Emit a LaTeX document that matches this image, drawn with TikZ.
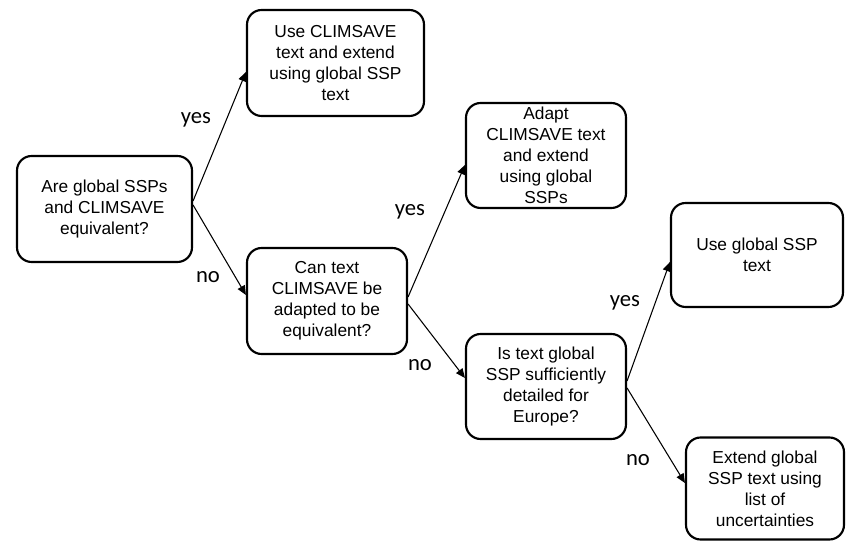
\documentclass[tikz,border=0pt]{standalone}
\usepackage{fontspec}
\setmainfont{Liberation Sans}
\newfontfamily\lblfont{Carlito}
\usetikzlibrary{arrows.meta,calc}
\begin{document}
\begin{tikzpicture}[x=0.75pt,y=-0.75pt,
  box/.style={draw, line width=1.6pt, rounded corners=11pt, align=center,
    font=\fontsize{13}{15.75}\selectfont, inner sep=0pt},
  lbl/.style={font=\lblfont\fontsize{17}{20}\selectfont, inner sep=0pt},
  arr/.style={line width=0.8pt, -{Triangle[length=7pt,width=6pt]}}]
\useasboundingbox (0,0) rectangle (847,541);

\node[box, minimum width=175*0.75pt, minimum height=106*0.75pt] (b1) at (104.5,209)
  {Are global SSPs\\and CLIMSAVE\\equivalent?};
\node[box, minimum width=177*0.75pt, minimum height=106*0.75pt] (b2) at (335.5,63)
  {Use CLIMSAVE\\text and extend\\using global SSP\\text};
\node[box, minimum width=160*0.75pt, minimum height=106*0.75pt] (b3) at (327,301)
  {Can text\\CLIMSAVE be\\adapted to be\\equivalent?};
\node[box, minimum width=160*0.75pt, minimum height=105*0.75pt] (b4) at (546,155.5)
  {Adapt\\CLIMSAVE text\\and extend\\using global\\SSPs};
\node[box, minimum width=160*0.75pt, minimum height=105*0.75pt] (b5) at (546,386.5)
  {Is text global\\SSP sufficiently\\detailed for\\Europe?};
\node[box, minimum width=172*0.75pt, minimum height=104*0.75pt] (b6) at (757,255)
  {Use global SSP\\text};
\node[box, minimum width=158*0.75pt, minimum height=102*0.75pt] (b7) at (765,488.5)
  {Extend global\\SSP text using\\list of\\uncertainties};

\draw[arr] ($(b1.east)+(0,-8)$) -- ($(b2.west)+(0,9)$);
\draw[arr] ($(b1.east)+(0,-4)$) -- ($(b3.west)+(0,-6)$);
\draw[arr] ($(b3.east)+(0,-4)$) -- ($(b4.west)+(0,9.5)$);
\draw[arr] ($(b3.east)+(0,3)$) -- ($(b5.west)+(0,-8.5)$);
\draw[arr] ($(b5.east)+(0,-5.5)$) -- ($(b6.west)+(0,7)$);
\draw[arr] ($(b5.east)+(0,1.5)$) -- ($(b7.west)+(0,-5.5)$);

\node[lbl] (y1) at (196,120) {yes};
\node[lbl] (n1) at (208,277) {no};
\node[lbl] (y2) at (410,212) {yes};
\node[lbl] (n2) at (420,365) {no};
\node[lbl] (y3) at (625,303) {yes};
\node[lbl] (n3) at (638,460) {no};
\end{tikzpicture}
\end{document}
